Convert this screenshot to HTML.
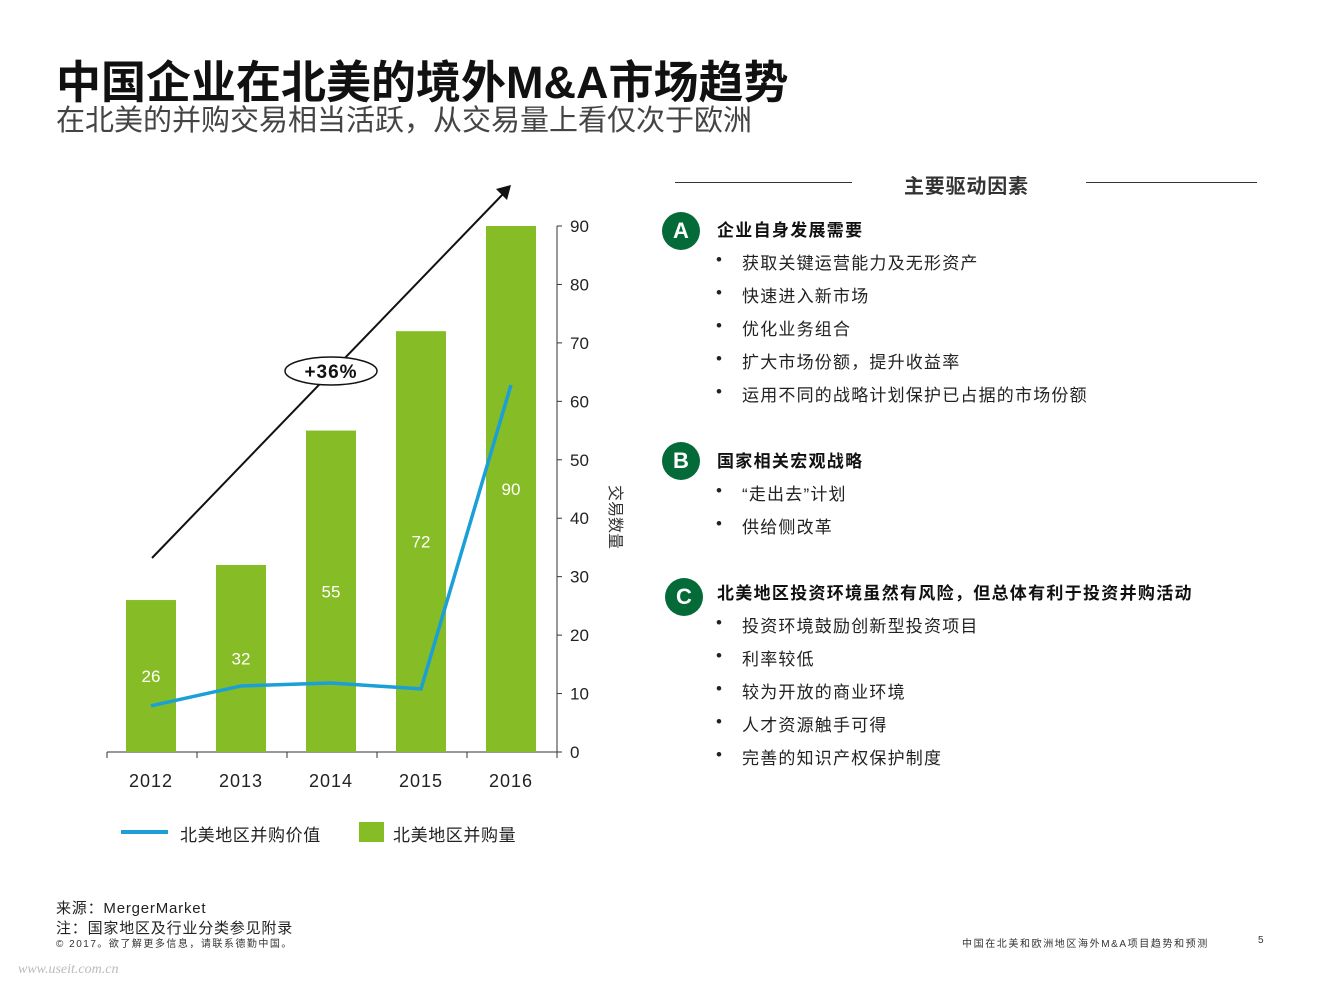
<!DOCTYPE html>
<html><head><meta charset="utf-8">
<style>
body{margin:0;width:1320px;height:990px;background:#fff;position:relative;overflow:hidden;font-family:"Liberation Sans","Noto Sans CJK SC",sans-serif;}
.a{position:absolute;white-space:nowrap;}
.badge{position:absolute;width:38px;height:38px;border-radius:50%;background:#046a38;color:#fff;font-weight:bold;font-size:22px;text-align:center;line-height:38px;}
.h{font-weight:bold;font-size:17px;color:#111;letter-spacing:1.3px;}
.b{font-size:17px;color:#222;letter-spacing:1.2px;}
</style></head><body>
<div class="a" style="left:56px;top:46px;font-size:45px;font-weight:bold;color:#111;">中国企业在北美的境外M&amp;A市场趋势</div>
<div class="a" style="left:56px;top:97px;font-size:29px;color:#444;">在北美的并购交易相当活跃，从交易量上看仅次于欧洲</div>

<svg class="a" style="left:0;top:0" width="660" height="880" id="chart"></svg>

<div class="a" style="left:121px;top:830px;width:47px;height:4px;background:#1a9fd6;"></div>
<div class="a" style="left:180px;top:821px;font-size:17px;color:#222;letter-spacing:0.6px;">北美地区并购价值</div>
<div class="a" style="left:359px;top:822px;width:25px;height:20px;background:#86bc25;"></div>
<div class="a" style="left:393px;top:821px;font-size:17px;color:#222;letter-spacing:0.6px;">北美地区并购量</div>

<div class="a" style="left:675px;top:182px;width:177px;height:1px;background:#333;"></div>
<div class="a" style="left:1086px;top:182px;width:171px;height:1px;background:#333;"></div>
<div class="a" style="left:904px;top:170px;font-size:20px;font-weight:bold;color:#333;letter-spacing:0.8px;">主要驱动因素</div>

<div class="badge" style="left:662px;top:212px;">A</div>
<div class="a h" style="left:717px;top:216px;">企业自身发展需要</div>
<div class="badge" style="left:662px;top:442px;">B</div>
<div class="a h" style="left:717px;top:447px;">国家相关宏观战略</div>
<div class="badge" style="left:665px;top:578px;">C</div>
<div class="a h" style="left:717px;top:579px;">北美地区投资环境虽然有风险，但总体有利于投资并购活动</div>
<div id="bullets"></div>

<div class="a" style="left:56px;top:897px;font-size:15px;color:#222;letter-spacing:0.8px;">来源：MergerMarket</div>
<div class="a" style="left:56px;top:917px;font-size:15px;color:#222;letter-spacing:0.8px;">注：国家地区及行业分类参见附录</div>
<div class="a" style="left:56px;top:935px;font-size:10px;color:#333;letter-spacing:1.5px;">© 2017。欲了解更多信息，请联系德勤中国。</div>
<div class="a" style="left:962px;top:935px;font-size:10px;color:#333;letter-spacing:1.6px;">中国在北美和欧洲地区海外M&amp;A项目趋势和预测</div>
<div class="a" style="left:1258px;top:935px;font-size:10px;color:#333;">5</div>
<div class="a" style="left:18px;top:962px;font-size:14px;color:#bbb;font-style:italic;font-family:'Liberation Serif',serif;">www.useit.com.cn</div>

<script>
const years=["2012","2013","2014","2015","2016"];
const volumes=[26,32,55,72,90];
const values=[7.9,11.3,11.8,10.8,62.8];
const yTicks=[0,10,20,30,40,50,60,70,80,90];
const bulletTexts=[["获取关键运营能力及无形资产","快速进入新市场","优化业务组合","扩大市场份额，提升收益率","运用不同的战略计划保护已占据的市场份额"],["“走出去”计划","供给侧改革"],["投资环境鼓励创新型投资项目","利率较低","较为开放的商业环境","人才资源触手可得","完善的知识产权保护制度"]];
const bulletStarts=[261,492,624];

const NS="http://www.w3.org/2000/svg";
const svg=document.getElementById('chart');
const y=v=>752-v*526/90;
const x=i=>151+i*90;
function mk(t,a,txt){const e=document.createElementNS(NS,t);for(const k in a)e.setAttribute(k,a[k]);if(txt!=null)e.textContent=txt;svg.appendChild(e);return e;}
let e;
e=mk('line',{x1:557,y1:226,x2:557,y2:752,stroke:'#333','stroke-width':1});


e=mk('line',{x1:107,y1:752,x2:557,y2:752,stroke:'#333','stroke-width':1});


for(let k=0;k<=5;k++){e=mk('line',{x1:107+k*90,y1:752,x2:107+k*90,y2:758,stroke:'#333'});

}
yTicks.forEach(t=>{
e=mk('line',{x1:557,y1:y(t),x2:562,y2:y(t),stroke:'#333'});


e=mk('text',{x:570,y:y(t)+6,'font-size':17,fill:'#222'},String(t));


});
e=mk('text',{x:0,y:0,'font-size':16,fill:'#333',transform:'translate(610,485) rotate(90)'},'交易数量');


years.forEach((yr,i)=>{
e=mk('rect',{x:x(i)-25,y:y(volumes[i]),width:50,height:752-y(volumes[i]),fill:'#86bc25'});


e=mk('text',{x:x(i),y:y(volumes[i]/2)+6,'font-size':17,fill:'#fff','text-anchor':'middle'},String(volumes[i]));


e=mk('text',{x:x(i),y:787,'font-size':18,fill:'#222','text-anchor':'middle','letter-spacing':1},yr);


});
e=mk('polyline',{points:values.map((v,i)=>x(i)+','+y(v)).join(' '),fill:'none',stroke:'#1a9fd6','stroke-width':3.5});


e=mk('line',{x1:152,y1:558,x2:504,y2:193,stroke:'#111','stroke-width':2});


e=mk('polygon',{points:'511,185 507,200 496,189',fill:'#111'});


e=mk('ellipse',{cx:331,cy:371,rx:46,ry:14,fill:'#fff',stroke:'#111','stroke-width':1.5});


e=mk('text',{x:331,y:378,'font-size':19,'font-weight':'bold',fill:'#111','text-anchor':'middle','letter-spacing':1},'+36%');



const bc=document.getElementById('bullets');
bulletTexts.forEach((grp,g)=>grp.forEach((t,j)=>{
const d=document.createElement('div');d.className='a b';


d.style.left='716px';d.style.top=(bulletStarts[g]+j*33-12)+'px';
d.innerHTML='<span style="position:absolute;left:0;top:1px;">•</span><span style="position:absolute;left:26px;">'+t+'</span>';
bc.appendChild(d);
}));
</script>
</body></html>
